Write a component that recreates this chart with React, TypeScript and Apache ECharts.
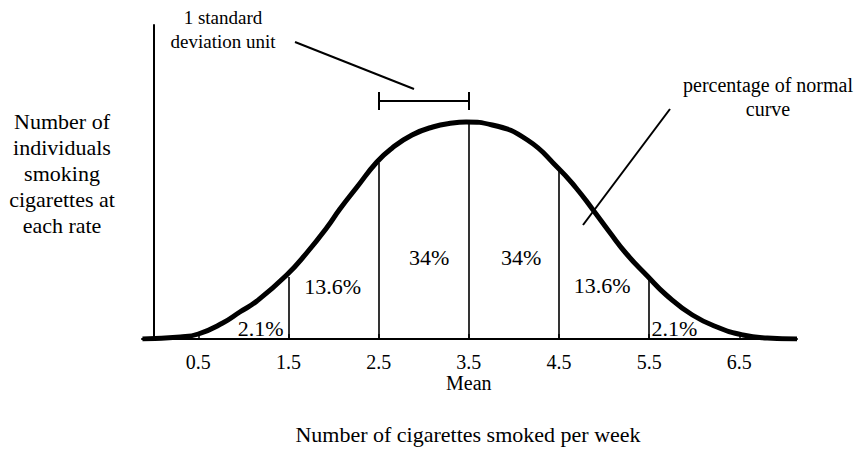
import React, { useEffect, useRef } from "react";
import * as echarts from "echarts";

// Normal curve (height above baseline, arbitrary units)
const curveX = [-0.12, 0.3, 0.5, 0.77, 0.96, 1.15, 1.48, 1.71, 1.93, 2.07, 2.26, 2.48, 2.65, 2.87, 3.1, 3.32, 3.47, 3.76, 4.15, 4.49, 4.69, 4.87, 5.06, 5.25, 5.48, 5.69, 5.98, 6.28, 6.54, 6.81, 7.14];
const curveY = [0, 2, 5, 16, 27, 38, 64, 87, 112, 130, 152, 177, 191, 204, 212, 216, 217, 214, 199, 171, 151, 130, 107, 85, 63, 44, 24, 11, 4, 1, 0];

// Vertical divider lines at each standard deviation
const dividerX = [1.5, 2.5, 3.5, 4.5, 5.5];
const dividerTop = [62, 176, 217, 169, 61];

// Tick labels
const tickValues = [0.5, 1.5, 2.5, 3.5, 4.5, 5.5, 6.5];
const meanValue = 3.5;

// Percentage labels of each area
const pctText = ["2.1%", "13.6%", "34%", "34%", "13.6%", "2.1%"];
const pctX = [1.19, 1.99, 3.06, 4.08, 4.98, 5.78];
const pctY = [11, 53, 82, 82, 54, 11];

// One standard deviation bracket
const sdFrom = 2.5;
const sdTo = 3.5;
const sdLevel = 238;
const sdCap = 9;

const FONT = "'Liberation Serif', 'Times New Roman', serif";
const INK = "#000";

export default function App() {
  const ref = useRef<HTMLDivElement>(null);
  useEffect(() => {
    if (!ref.current) return;
    const chart = echarts.init(ref.current, undefined, { renderer: "svg" });
    chart.setOption({
      animation: false,
      backgroundColor: "#fff",
      grid: { left: 142, right: 63, top: 25, bottom: 111 },
      xAxis: {
        type: "value",
        min: -0.125,
        max: 7.14,
        splitLine: { show: false },
        axisLine: { show: true, lineStyle: { color: INK, width: 2 } },
        axisTick: { show: true, inside: true, length: 5, customValues: tickValues, lineStyle: { color: INK, width: 1.5 } },
        axisLabel: {
          customValues: tickValues,
          color: INK,
          fontFamily: FONT,
          fontSize: 20,
          lineHeight: 21,
          margin: 12,
          formatter: (v: number) => (v === meanValue ? v.toFixed(1) + "\nMean" : v.toFixed(1)),
        },
      },
      yAxis: {
        type: "value",
        min: 0,
        max: 314,
        splitLine: { show: false },
        axisLine: { show: true, lineStyle: { color: INK, width: 2 } },
        axisTick: { show: false },
        axisLabel: { show: false },
      },
      series: [
        {
          type: "line",
          data: curveX.map((x, i) => [x, curveY[i]]),
          smooth: 0.5,
          symbol: "none",
          lineStyle: { color: INK, width: 5 },
          z: 3,
          markLine: {
            silent: true,
            symbol: "none",
            label: { show: false },
            lineStyle: { color: INK, width: 1.6, type: "solid" },
            data: [
              ...dividerX.map((x, i) => [{ coord: [x, 0] }, { coord: [x, dividerTop[i]] }]),
              [{ coord: [sdFrom, sdLevel] }, { coord: [sdTo, sdLevel], lineStyle: { width: 2 } }],
              [{ coord: [sdFrom, sdLevel - sdCap] }, { coord: [sdFrom, sdLevel + sdCap], lineStyle: { width: 2 } }],
              [{ coord: [sdTo, sdLevel - sdCap] }, { coord: [sdTo, sdLevel + sdCap], lineStyle: { width: 2 } }],
            ],
          },
        },
        {
          type: "scatter",
          symbolSize: 1,
          itemStyle: { color: "rgba(0,0,0,0)", opacity: 1 },
          data: pctText.map((t, i) => ({ name: t, value: [pctX[i], pctY[i]] })),
          label: {
            show: true,
            position: "inside",
            formatter: (p: any) => p.name,
            color: INK,
            opacity: 1,
            textBorderWidth: 0,
            fontFamily: FONT,
            fontSize: 22,
          },
          emphasis: { disabled: true },
          z: 4,
        },
      ],
      graphic: [
        {
          type: "text",
          x: 62,
          y: 108,
          style: {
            text: "Number of\nindividuals\nsmoking\ncigarettes at\neach rate",
            align: "center",
            verticalAlign: "top",
            lineHeight: 26,
            font: `22px ${FONT}`,
            fill: INK,
          },
        },
        {
          type: "text",
          x: 223,
          y: 5,
          style: {
            text: "1 standard\ndeviation unit",
            align: "center",
            verticalAlign: "top",
            lineHeight: 24,
            font: `19px ${FONT}`,
            fill: INK,
          },
        },
        {
          type: "text",
          x: 768,
          y: 73,
          style: {
            text: "percentage of normal\ncurve",
            align: "center",
            verticalAlign: "top",
            lineHeight: 24,
            font: `20px ${FONT}`,
            fill: INK,
          },
        },
        {
          type: "text",
          x: 468,
          y: 434,
          style: {
            text: "Number of cigarettes smoked per week",
            align: "center",
            verticalAlign: "middle",
            font: `22px ${FONT}`,
            fill: INK,
          },
        },
        { type: "line", shape: { x1: 295, y1: 42, x2: 414, y2: 89 }, style: { stroke: INK, lineWidth: 2 } },
        { type: "line", shape: { x1: 670, y1: 109, x2: 583, y2: 225 }, style: { stroke: INK, lineWidth: 2 } },
      ],
    });
    return () => chart.dispose();
  }, []);
  return <div ref={ref} style={{ width: 860, height: 450, position: "absolute", left: 0, top: 0 }} />;
}
